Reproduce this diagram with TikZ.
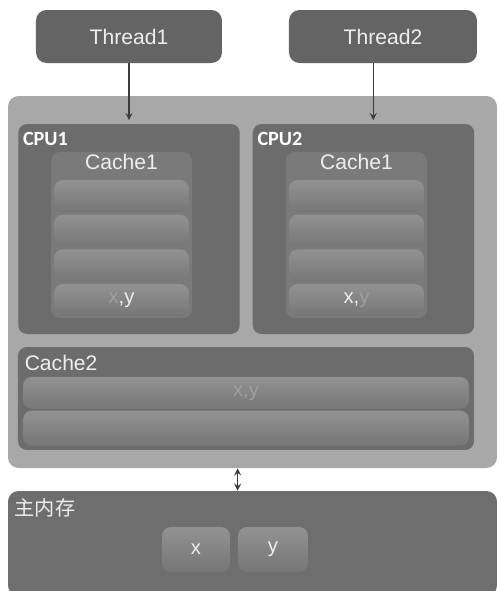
\documentclass[tikz,border=0pt]{standalone}
\usepackage{fontspec}
\setmainfont{Liberation Sans}
\newfontfamily\cpufont{Carlito}
\newfontfamily\cjkfont{Noto Sans CJK SC}
\usepackage{tikz}
\usetikzlibrary{arrows,positioning,calc}
\definecolor{thgray}{RGB}{100,100,100}
\definecolor{outergray}{RGB}{168,168,168}
\definecolor{cpugray}{RGB}{108,108,108}
\definecolor{cachegray}{RGB}{122,122,122}
\definecolor{linetop}{RGB}{146,146,146}
\definecolor{linebot}{RGB}{118,118,118}
\definecolor{memgray}{RGB}{110,110,110}
\definecolor{txtgray}{RGB}{238,238,238}
\definecolor{fadegray}{RGB}{158,158,158}
\definecolor{arrgray}{RGB}{60,60,60}
\tikzstyle{arrow} = [thick,->,>=stealth,color=arrgray]
\tikzstyle{dblarrow} = [thick,<->,>=stealth,color=arrgray]
\tikzstyle{threadbox} = [rectangle, rounded corners=6pt, minimum width=3.72cm, minimum height=1.06cm, text centered, fill=thgray, text=txtgray, font=\fontsize{12}{14}\selectfont]
\tikzstyle{cpubox} = [rectangle, rounded corners=5pt, minimum width=4.43cm, minimum height=4.2cm, fill=cpugray]
\tikzstyle{cachebox} = [rectangle, rounded corners=5pt, minimum width=2.82cm, minimum height=3.32cm, fill=cachegray]
\tikzstyle{linebox} = [rectangle, rounded corners=5pt, minimum width=2.7cm, minimum height=0.64cm, top color=linetop, bottom color=linebot, text=txtgray, font=\fontsize{11.5}{13}\selectfont, inner sep=0pt]
\tikzstyle{label} = [text=txtgray, inner sep=1pt]

\begin{document}
\begin{tikzpicture}
\useasboundingbox (0,0) rectangle (10,11.82);
\fill[white] (0,0) rectangle (10,11.82);

% Threads
\node[threadbox] (thread1) at (2.58,11.09) {Thread1};
\node[threadbox, minimum width=3.76cm] (thread2) at (7.66,11.09) {Thread2};

% CPU area
\node[rectangle, rounded corners=6pt, minimum width=9.78cm, minimum height=7.44cm, fill=outergray] (outer) at (5.05,6.18) {};
\node[cpubox] (cpu1) at (2.58,7.24) {};
\node[cpubox] (cpu2) at (7.27,7.24) {};
\node[label, anchor=north west, font=\cpufont\bfseries\fontsize{11.5}{13}\selectfont, text=white] at ($(cpu1.north west)+(0.06,-0.12)$) {CPU1};
\node[label, anchor=north west, font=\cpufont\bfseries\fontsize{11.5}{13}\selectfont, text=white] at ($(cpu2.north west)+(0.06,-0.12)$) {CPU2};

% Cache1 of CPU1
\node[cachebox] (cache1a) at (2.43,7.12) {};
\node[label, below=0cm of cache1a.north, font=\fontsize{12}{14}\selectfont] {Cache1};
\node[linebox, below=0.56cm of cache1a.north] (c1a) {};
\node[linebox, below=0.04cm of c1a] (c1b) {};
\node[linebox, below=0.04cm of c1b] (c1c) {};
\node[linebox, below=0.04cm of c1c] (c1d) {{\color{fadegray}x},y};

% Cache1 of CPU2
\node[cachebox] (cache1b) at (7.13,7.12) {};
\node[label, below=0cm of cache1b.north, font=\fontsize{12}{14}\selectfont] {Cache1};
\node[linebox, below=0.56cm of cache1b.north] (c2a) {};
\node[linebox, below=0.04cm of c2a] (c2b) {};
\node[linebox, below=0.04cm of c2b] (c2c) {};
\node[linebox, below=0.04cm of c2c] (c2d) {x,{\color{fadegray}y}};

% Cache2
\node[rectangle, rounded corners=5pt, minimum width=9.12cm, minimum height=2.06cm, fill=cpugray] (cache2) at (4.92,3.85) {};
\node[label, anchor=north west, font=\fontsize{12}{14}\selectfont] at ($(cache2.north west)+(0.1,-0.12)$) {Cache2};
\node[linebox, minimum width=8.92cm, below=0.6cm of cache2.north, text=fadegray] (l2a) {x,y};
\node[linebox, minimum width=8.92cm, minimum height=0.7cm, below=0.02cm of l2a] (l2b) {};

% Main memory
\node[rectangle, rounded corners=6pt, minimum width=9.78cm, minimum height=2.1cm, fill=memgray] (mem) at (5.05,0.95) {};
\node[label, anchor=north west, font=\cjkfont\fontsize{11.5}{13}\selectfont] at ($(mem.north west)+(0.1,-0.12)$) {主内存};
\node[linebox, minimum width=1.36cm, minimum height=0.9cm] (xbox) at (3.92,0.83) {x};
\node[linebox, minimum width=1.4cm, minimum height=0.9cm] (ybox) at (5.46,0.83) {y};

% Arrows
\coordinate (t2) at ($(thread2.south)!0.5!(cpu2.north)$);
\draw[arrow, shorten >=2pt] (thread1.south) -- (cpu1.north);
\draw[arrow, shorten >=2pt] (t2 |- thread2.south) -- (t2 |- cpu2.north);
\draw[dblarrow] (outer.south -| ybox.west) -- (mem.north -| ybox.west);
\end{tikzpicture}
\end{document}
